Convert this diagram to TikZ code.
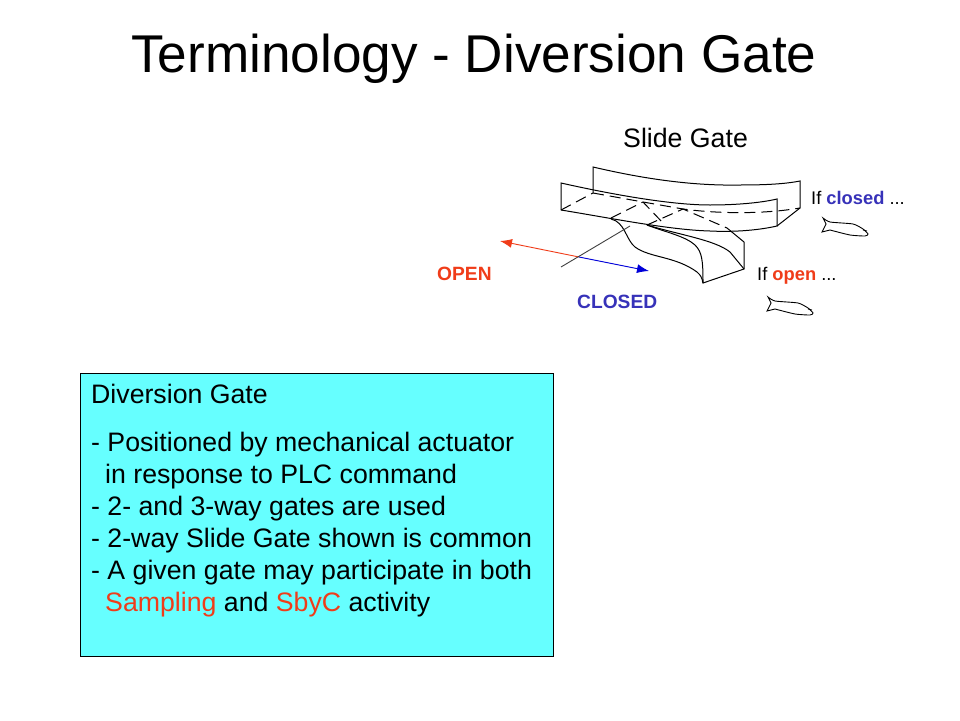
\documentclass[tikz,border=0pt]{standalone}
\usepackage{fontspec}
\setmainfont{Liberation Sans}
\usetikzlibrary{arrows.meta}
\definecolor{cred}{RGB}{240,60,25}
\definecolor{cblue}{RGB}{55,50,185}
\definecolor{cyanbox}{RGB}{102,255,255}
\tikzset{
  sk/.style={line width=1pt,black},
  skd/.style={line width=1pt,black,dash pattern=on 11pt off 6pt},
  lab/.style={inner sep=0pt,anchor=base west},
  small/.style={lab,font=\fontsize{18.3}{20}\selectfont},
  smallb/.style={lab,font=\fontsize{19.2}{22}\selectfont\bfseries},
  fish/.pic={\draw[line width=.9pt] plot[smooth,tension=.35] coordinates {(0,0)(7,4)(30,6)(40,11)(45,16)(42,18)(27,17)(7,12)} -- (-1,14) -- (3,6) -- cycle;
    \draw[line width=.8pt] (40,12) -- (44,13);}
}
\begin{document}
\begin{tikzpicture}[x=1pt,y=-1pt]
\useasboundingbox (0,0) rectangle (960,720);
\fill[white] (0,0) rectangle (960,720);
\node[lab,font=\fontsize{53.15}{60}\selectfont] (title) at (131,72) {Terminology - Diversion Gate};
\node[lab,font=\fontsize{26.7}{30}\selectfont] (slide) at (623,147) {Slide Gate};
\node[smallb,text=cred] (open) at (437,280) {OPEN};
\node[smallb,text=cblue] (closed) at (577,308) {CLOSED};
\node[small] (ifclosed) at (811,204) {If \textcolor{cblue}{\textbf{closed}} ...};
\node[small] (ifopen) at (757,280) {If \textcolor{cred}{\textbf{open}} ...};
% back box
\draw[sk] (593,193) -- (593,167) .. controls (640,178) and (690,186) .. (740,185) .. controls (765,185) and (785,184) .. (800,181) -- (800,208) -- (777,226);
% front box
\draw[sk] (561,210) -- (561,183) .. controls (610,194) and (670,205) .. (710,205) .. controls (735,205) and (760,203) .. (777,199) -- (777,226) .. controls (755,231) and (730,232) .. (710,231) .. controls (670,230) and (610,218) .. (561,210);
% dashed floor
\draw[skd] (561,210) -- (593,193);
\draw[skd] (593,193) -- (643,202) -- (683,209) .. controls (720,214) and (765,214) .. (800,208);
\draw[skd] (611,218) -- (643,202) -- (663,223);
\draw[skd] (647,225) -- (683,209) -- (727,228);
% chute
\draw[sk] (611,219) .. controls (625,222) and (626,240) .. (635,247) .. controls (650,258) and (675,256) .. (697,272) .. controls (704,278) and (702,283) .. (703,283) -- (744,269) -- (744,242) -- (727,228);
\draw[sk] (647,225) .. controls (665,232) and (685,236) .. (695,245) .. controls (702,252) and (703,260) .. (703,283);
\draw[sk] (647,225) .. controls (680,235) and (715,240) .. (730,252) -- (744,269);
% actuator and arrows
\coordinate (pivot) at (579,257);
\coordinate (openend) at (500,241);
\coordinate (closedend) at (649,271);
\draw[line width=.9pt,cred,-{Latex[length=12pt,width=9pt]}] (pivot) -- (openend);
\draw[line width=.9pt,blue!85!black,-{Latex[length=12pt,width=9pt]}] (pivot) -- (closedend);
\draw[line width=.9pt,black!75] (561,267) -- (630,226);
% fish
\pic at (823,218) {fish};
\pic at (768,297) {fish};
% box
\node[draw=black,line width=.8pt,fill=cyanbox,minimum width=473pt,minimum height=283pt,anchor=north west,inner sep=0pt] (box) at (80,373) {};
\node[anchor=north west,inner sep=0pt,align=left,font=\fontsize{26.7}{32}\selectfont] (boxtext) at (91,384) {Diversion Gate\\[16pt]
- Positioned by mechanical actuator\\
\hspace{14pt}in response to PLC command\\
- 2- and 3-way gates are used\\
- 2-way Slide Gate shown is common\\
- A given gate may participate in both\\
\hspace{14pt}\textcolor{cred}{Sampling} and \textcolor{cred}{SbyC} activity};
\end{tikzpicture}
\end{document}
